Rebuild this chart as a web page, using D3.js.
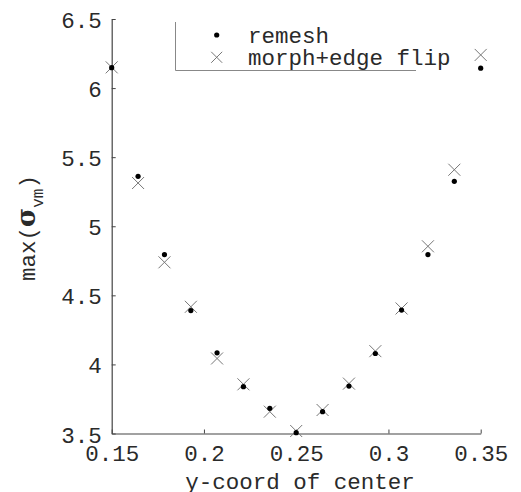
<!DOCTYPE html>
<html><head><meta charset="utf-8">
<script src="https://cdn.jsdelivr.net/npm/d3@7"></script>
<style>
body{margin:0;background:#fff;}
text{font-family:"Liberation Mono","Courier New",monospace;fill:#2a2a2a;}
</style></head>
<body><svg id="c" width="521" height="492"></svg>
<script>
const xVals = [0.15, 0.1643, 0.1786, 0.1929, 0.2071, 0.2214, 0.2357, 0.25, 0.2643, 0.2786, 0.2929, 0.3071, 0.3214, 0.3357, 0.35];
const remesh = [6.148, 5.361, 4.795, 4.390, 4.084, 3.839, 3.682, 3.506, 3.658, 3.843, 4.079, 4.393, 4.795, 5.325, 6.144];
const morphFlip = [6.150, 5.313, 4.739, 4.417, 4.043, 3.856, 3.658, 3.518, 3.670, 3.861, 4.096, 4.405, 4.855, 5.409, 6.240];
const xTicks = [0.15, 0.2, 0.25, 0.3, 0.35];
const xTickLabels = ["0.15", "0.2", "0.25", "0.3", "0.35"];
const yTicks = [3.5, 4, 4.5, 5, 5.5, 6, 6.5];
const yTickLabels = ["3.5", "4", "4.5", "5", "5.5", "6", "6.5"];
const seriesNames = ["remesh", "morph+edge flip"];

const svg = d3.select("#c");
const x = d3.scaleLinear().domain([0.15, 0.35]).range([111.7, 480.7]);
const y = d3.scaleLinear().domain([3.5, 6.5]).range([433.5, 19]);

const fs = 22.5;
const xAxis = d3.axisBottom(x).tickValues(xTicks).tickFormat((d,i)=>xTickLabels[i])
  .tickSizeInner(-4).tickSizeOuter(0).tickPadding(12);
const yAxis = d3.axisLeft(y).tickValues(yTicks).tickFormat((d,i)=>yTickLabels[i])
  .tickSizeInner(-4).tickSizeOuter(0).tickPadding(10);

const gx = svg.append("g").attr("transform", `translate(0,${y(3.5)})`).call(xAxis);
const gy = svg.append("g").attr("transform", `translate(${x(0.15)},0)`).call(yAxis);
[gx, gy].forEach(g => {
  g.select(".domain").attr("stroke", "#444").attr("stroke-width", 1.2);
  g.selectAll(".tick line").attr("stroke", "#444");
  g.selectAll(".tick text").attr("font-size", fs).attr("font-family", "Liberation Mono").attr("fill", "#2a2a2a");
});
gy.selectAll(".tick text").attr("dy", "0.38em");

// axis titles
svg.append("text").attr("x", 300).attr("y", 489).attr("text-anchor", "middle")
  .attr("font-size", fs).text("y-coord of center");
const yt = svg.append("text").attr("transform", "translate(35,228) rotate(-90)")
  .attr("text-anchor", "middle").attr("font-size", fs);
yt.append("tspan").text("max(");
yt.append("tspan").attr("font-family", "DejaVu Serif").attr("font-weight", "bold").attr("font-size", 26).text("σ");
yt.append("tspan").attr("font-size", 16).attr("dy", 8).text("vm");
yt.append("tspan").attr("dy", -8).text(")");

// data
const crossPath = s => `M${-s},${-s}L${s},${s}M${-s},${s}L${s},${-s}`;
svg.append("g").selectAll("path").data(xVals).join("path")
  .attr("transform", (d,i)=>`translate(${x(d)},${y(morphFlip[i])})`)
  .attr("d", crossPath(6)).attr("stroke", "#777").attr("stroke-width", 1).attr("fill", "none");
svg.append("g").selectAll("circle").data(xVals).join("circle")
  .attr("cx", d=>x(d)).attr("cy", (d,i)=>y(remesh[i])).attr("r", 2.6).attr("fill", "#000");

// legend
const lg = svg.append("g");
lg.append("path").attr("d", "M175.5,22V70.5H416").attr("stroke", "#888").attr("fill", "none");
lg.append("circle").attr("cx", 216.7).attr("cy", 35).attr("r", 2.6).attr("fill", "#000");
lg.append("path").attr("transform", "translate(216.7,57.3)").attr("d", crossPath(5.5))
  .attr("stroke", "#777").attr("fill", "none");
lg.append("text").attr("x", 248).attr("y", 43).attr("font-size", fs).text(seriesNames[0]);
lg.append("text").attr("x", 248).attr("y", 65).attr("font-size", fs).text(seriesNames[1]);
</script></body></html>
